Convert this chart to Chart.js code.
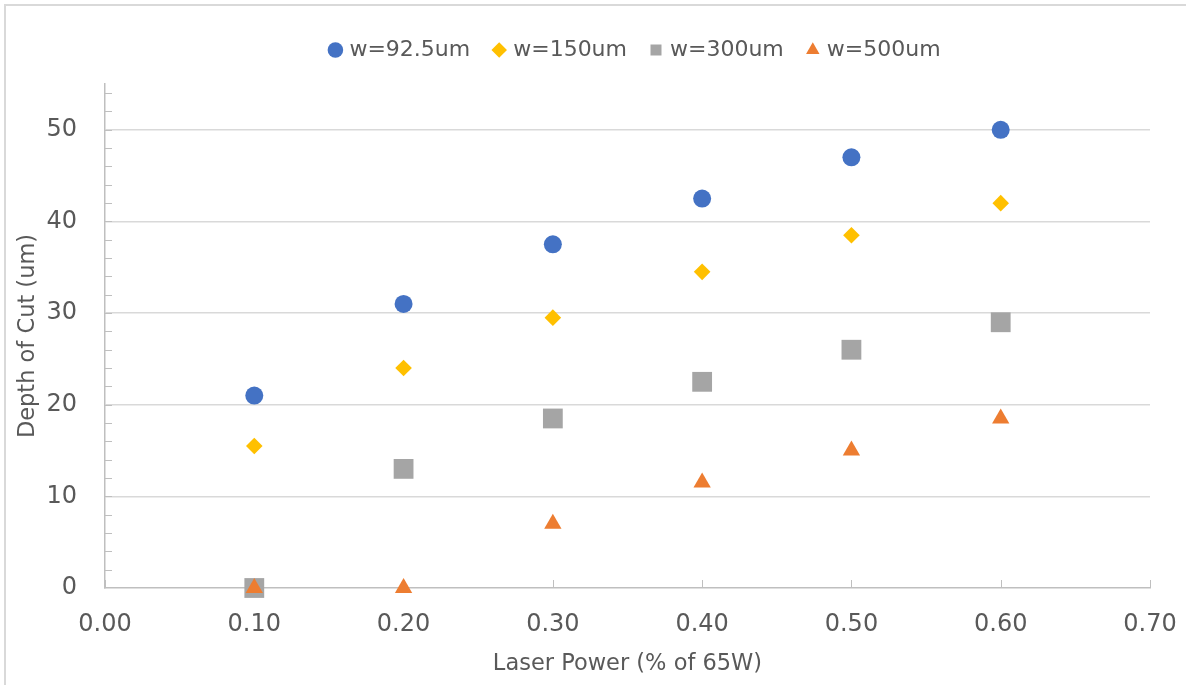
<!DOCTYPE html>
<html>
<head>
<meta charset="utf-8">
<script src="https://cdn.jsdelivr.net/npm/chart.js@4.4.0/dist/chart.umd.min.js"></script>
<style>
  html, body { margin: 0; padding: 0; background: #fff; overflow: hidden; }
  #wrap { position: relative; width: 1186px; height: 685px; overflow: hidden; }
  #frame { position: absolute; left: 4px; top: 4px; width: 1220px; height: 720px; border: 2px solid #d9d9d9; box-sizing: border-box; }
  #grafico { position: absolute; left: 0; top: 0; }
</style>
</head>
<body>
<div id="wrap">
  <div id="frame"></div>
  <canvas id="grafico"></canvas>
</div>
<script>
// potencia do laser (fração de 65W) e profundidade de corte (um) por largura
const potencia   = [0.1, 0.2, 0.3, 0.4, 0.5, 0.6]
const corte_92_5 = [21, 31, 37.5, 42.5, 47, 50]
const corte_150  = [15.5, 24, 29.5, 34.5, 38.5, 42]
const corte_300  = [0, 13, 18.5, 22.5, 26, 29]
const corte_500  = [0, 0, 7, 11.5, 15, 18.5]
const nomes      = ["w=92.5um", "w=150um", "w=300um", "w=500um"]
const cores      = ["#4472C4", "#FFC000", "#A5A5A5", "#ED7D31"]

const CINZA_TEXTO = "#595959"
const FONTE = "'DejaVu Sans', sans-serif"

const pontos = (valores) => potencia.map((p, i) => ({ x: p, y: valores[i] }))

const serie = (i, valores, estilo, raio) => ({
    label: nomes[i],
    data: pontos(valores),
    pointStyle: estilo,
    pointRadius: raio,
    backgroundColor: cores[i],
    borderColor: cores[i],
    borderWidth: 0,
    showLine: false,
    clip: false,
    order: 3 - i
})

// marcas menores do eixo y (a cada 2) e marcas do eixo x, voltadas para dentro
const marcas = {
    id: "marcas",
    beforeDatasetsDraw(chart) {
        const { ctx, scales: { x, y } } = chart
        ctx.save()
        ctx.strokeStyle = "#bfbfbf"
        ctx.lineWidth = 1
        ctx.beginPath()
        for (let v = 2; v < y.max; v += 2) {
            const py = Math.round(y.getPixelForValue(v)) + 0.5
            ctx.moveTo(x.left, py)
            ctx.lineTo(x.left + 7, py)
        }
        x.ticks.forEach((t) => {
            const px = Math.round(x.getPixelForValue(t.value)) + 0.5
            ctx.moveTo(px, y.bottom)
            ctx.lineTo(px, y.bottom - 8)
        })
        ctx.stroke()
        ctx.restore()
    }
}

// espaço extra abaixo da legenda e leve deslocamento para a direita
const ajusteLegenda = {
    id: "ajusteLegenda",
    beforeInit(chart) {
        const fit = chart.legend.fit
        chart.legend.fit = function () {
            fit.bind(chart.legend)()
            this.height += 13
        }
    },
    afterLayout(chart) {
        chart.legend.left += 9
        chart.legend.right += 9
    }
}

const grafico = new Chart(document.getElementById("grafico"), {
    type: "scatter",
    data: {
        datasets: [
            serie(0, corte_92_5, "circle", 9),
            serie(1, corte_150, "rectRot", 8.3),
            serie(2, corte_300, "rect", 14),
            serie(3, corte_500, "triangle", 10)
        ]
    },
    options: {
        responsive: true,
        maintainAspectRatio: false,
        animation: false,
        events: [],
        layout: { padding: { top: 13, left: 11, right: 0, bottom: 3 } },
        plugins: {
            tooltip: { enabled: false },
            legend: {
                position: "top",
                fullSize: false,
                labels: {
                    usePointStyle: true,
                    boxWidth: 6,
                    boxHeight: 11,
                    padding: 26,
                    color: CINZA_TEXTO,
                    font: { family: FONTE, size: 22 },
                    sort: (a, b) => a.datasetIndex - b.datasetIndex
                }
            }
        },
        scales: {
            x: {
                type: "linear",
                min: 0,
                max: 0.7,
                afterFit: (s) => { s.height = 94; s.paddingRight = 36 },
                ticks: {
                    stepSize: 0.1,
                    maxRotation: 0,
                    padding: 22,
                    color: CINZA_TEXTO,
                    font: { family: FONTE, size: 24 },
                    callback: (v) => Number(v).toFixed(2)
                },
                grid: { display: false, drawTicks: false },
                border: { display: true, color: "#bfbfbf", width: 1.5 },
                title: {
                    display: true,
                    text: "Laser Power (% of 65W)",
                    color: CINZA_TEXTO,
                    font: { family: FONTE, size: 22.5 }
                }
            },
            y: {
                min: 0,
                max: 55,
                afterFit: (s) => { s.width = 94 },
                ticks: {
                    stepSize: 10,
                    includeBounds: false,
                    padding: 28,
                    color: CINZA_TEXTO,
                    font: { family: FONTE, size: 24 }
                },
                grid: {
                    drawTicks: false,
                    color: (c) => (c.tick && c.tick.value > 0) ? "#d9d9d9" : "rgba(0,0,0,0)",
                    lineWidth: 1.5
                },
                border: { display: true, color: "#bfbfbf", width: 1.5 },
                title: {
                    display: true,
                    text: "Depth of Cut (um)",
                    color: CINZA_TEXTO,
                    font: { family: FONTE, size: 22.5 }
                }
            }
        }
    },
    plugins: [marcas, ajusteLegenda]
})
</script>
</body>
</html>
